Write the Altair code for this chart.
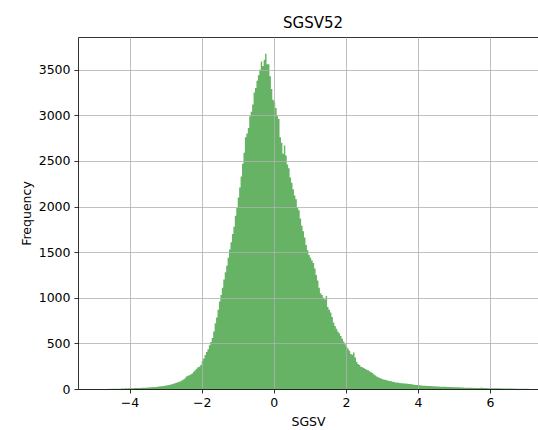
import altair as alt
import pandas as pd

title_text = "SGSV52"
x_title = "SGSV"
y_title = "Frequency"

# histogram definition: first bin edge, bin width, counts per bin
bin_start = -4.84
bin_width = 0.04
counts = [
    0, 1, 0, 1, 1, 0, 2, 1, 2, 2,
    3, 2, 3, 4, 3, 5, 6, 5, 7, 6,
    8, 7, 9, 8, 10, 11, 10, 12, 11, 13,
    14, 15, 14, 17, 16, 18, 19, 21, 20, 23,
    25, 27, 30, 29, 33, 36, 39, 42, 44, 49,
    53, 58, 62, 68, 74, 80, 86, 95, 104, 118,
    137, 145, 152, 160, 170, 188, 205, 222, 238, 245,
    262, 305, 335, 372, 405, 435, 480, 515, 560, 630,
    720, 785, 870, 960, 1030, 1110, 1200, 1280, 1350, 1440,
    1530, 1610, 1700, 1780, 1900, 1985, 2100, 2210, 2330, 2470,
    2590, 2760, 2800, 2860, 2990, 3040, 3120, 3250, 3300, 3380,
    3440, 3500, 3590, 3540, 3610, 3675, 3560, 3560, 3430, 3290,
    3170, 3150, 3080, 2990, 2960, 2760, 2700, 2580, 2670, 2560,
    2460, 2420, 2320, 2260, 2190, 2120, 2080, 1990, 1960, 1870,
    1790, 1730, 1660, 1580, 1520, 1470, 1440, 1410, 1380, 1320,
    1250, 1190, 1110, 1050, 1030, 1000, 980, 1020, 900, 870,
    840, 790, 730, 690, 660, 630, 610, 580, 550, 520,
    490, 465, 445, 420, 385, 375, 400, 345, 300, 275,
    262, 245, 238, 230, 220, 212, 205, 195, 185, 175,
    160, 148, 136, 128, 120, 115, 108, 103, 98, 95,
    90, 88, 84, 80, 76, 72, 70, 68, 66, 64,
    62, 61, 59, 58, 56, 55, 52, 50, 47, 45,
    43, 41, 40, 38, 37, 36, 35, 34, 33, 32,
    31, 30, 29, 28, 28, 27, 26, 26, 25, 25,
    24, 23, 22, 21, 22, 20, 19, 20, 18, 19,
    17, 16, 16, 15, 15, 14, 14, 13, 13, 12,
    13, 12, 11, 12, 14, 15, 11, 10, 10, 9,
    9, 9, 8, 8, 8, 7, 7, 7, 6, 7,
    6, 6, 6, 5, 5, 5, 5, 4, 5, 4,
    4, 4, 3, 4, 3, 3, 3, 2,
]
x_ticks = [-4, -2, 0, 2, 4, 6]
y_ticks = [0, 500, 1000, 1500, 2000, 2500, 3000, 3500]
x_domain = [-5.43, 7.33]
y_domain = [0, 3859]

edges = [bin_start + i * bin_width for i in range(len(counts) + 1)]
df = pd.DataFrame({"x": edges, "count": counts + [counts[-1]]})

FONT = "DejaVu Sans"
xscale = alt.Scale(domain=x_domain, nice=False, zero=False)
yscale = alt.Scale(domain=y_domain, nice=False)

common_axis = dict(
    grid=True, gridColor="#b0b0b0", gridWidth=0.8,
    domainColor="black", domainWidth=0.8,
    tickColor="black", tickWidth=0.8, tickSize=4,
    labelFont=FONT, labelFontSize=12.5, labelColor="black",
    titleFont=FONT, titleFontSize=12.5, titleFontWeight="normal", titleColor="black",
    zindex=1,
)

hist = alt.Chart(df).mark_area(interpolate="step-after", color="#66b366").encode(
    x=alt.X("x:Q", scale=xscale, axis=alt.Axis(
        values=x_ticks, title=x_title, labelPadding=3, titlePadding=7, format="d",
        labelExpr="replace(datum.label, '-', '\u2212')", **common_axis)),
    y=alt.Y("count:Q", scale=yscale, axis=alt.Axis(
        values=y_ticks, title=y_title, labelPadding=4, titlePadding=5, format="d",
        **common_axis)),
)

top_line = alt.Chart(df).mark_rule(opacity=0).encode(
    x=alt.X("x:Q", scale=xscale, axis=alt.Axis(
        orient="top", labels=False, ticks=False, grid=False, title=None,
        domainColor="black", domainWidth=0.8)),
)

chart = alt.layer(hist, top_line).resolve_axis(x="independent").properties(
    width=460, height=352,
    title=alt.TitleParams(text=title_text, font=FONT, fontSize=15, fontWeight="normal",
                          color="black", offset=6, dx=5, anchor="middle"),
    autosize=alt.AutoSizeParams(type="none"),
    padding={"left": 78, "top": 37, "right": 0, "bottom": 41},
).configure_view(stroke=None)

chart.save("out.html", embed_options={"renderer": "svg", "actions": False})
